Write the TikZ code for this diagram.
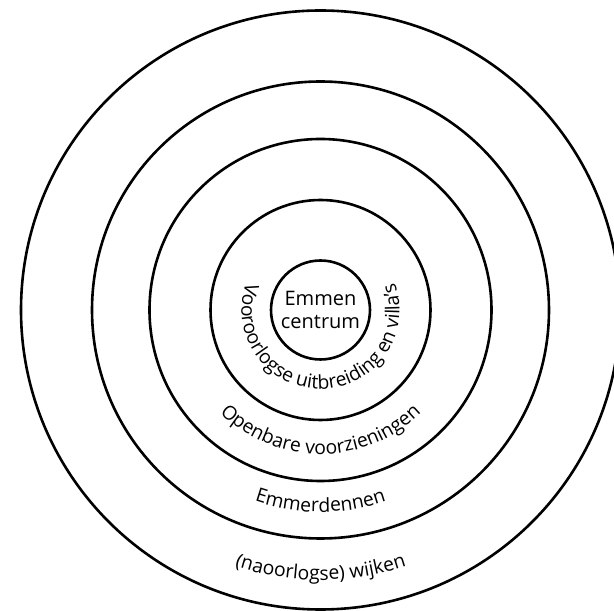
\documentclass[tikz,border=0pt]{standalone}
\usepackage{fontspec}
\setmainfont{Open Sans}
\usetikzlibrary{decorations.text}
\begin{document}
\begin{tikzpicture}[x=1pt,y=1pt,
  ring/.style={circle, draw=black, line width=2.6pt, inner sep=0pt, outer sep=0pt},
  ringtext/.style={decorate, decoration={text along path, text align=center, text={|\fontsize{19.3}{19.3}\selectfont|#1}}}]
\useasboundingbox (0,0) rectangle (614,611);
\clip (0,0) rectangle (614,611);
\coordinate (c) at (320.5,301);
\node[ring, minimum size=599pt] (wijken) at (c) {};
\node[ring, minimum size=457pt] (emmerdennen) at (c) {};
\node[ring, minimum size=342pt] (openbaar) at (c) {};
\node[ring, minimum size=220pt] (vooroorlogs) at (c) {};
\node[ring, minimum size=99pt] (centrum) at (c) {};
\node[align=center, font=\fontsize{20}{23}\selectfont, inner sep=0pt] (centrumtext) at (c) {Emmen\\centrum};
\path[ringtext={Vooroorlogse uitbreiding en villa's}] ([shift={(150:79)}]c) arc[start angle=150, end angle=390, radius=79];
\path[ringtext={Openbare voorzieningen}] ([shift={(200:144)}]c) arc[start angle=200, end angle=340, radius=144];
\path[ringtext={Emmerdennen}] ([shift={(220:202)}]c) arc[start angle=220, end angle=320, radius=202];
\path[ringtext={(naoorlogse) wijken}] ([shift={(225:270)}]c) arc[start angle=225, end angle=315, radius=270];
\end{tikzpicture}
\end{document}
